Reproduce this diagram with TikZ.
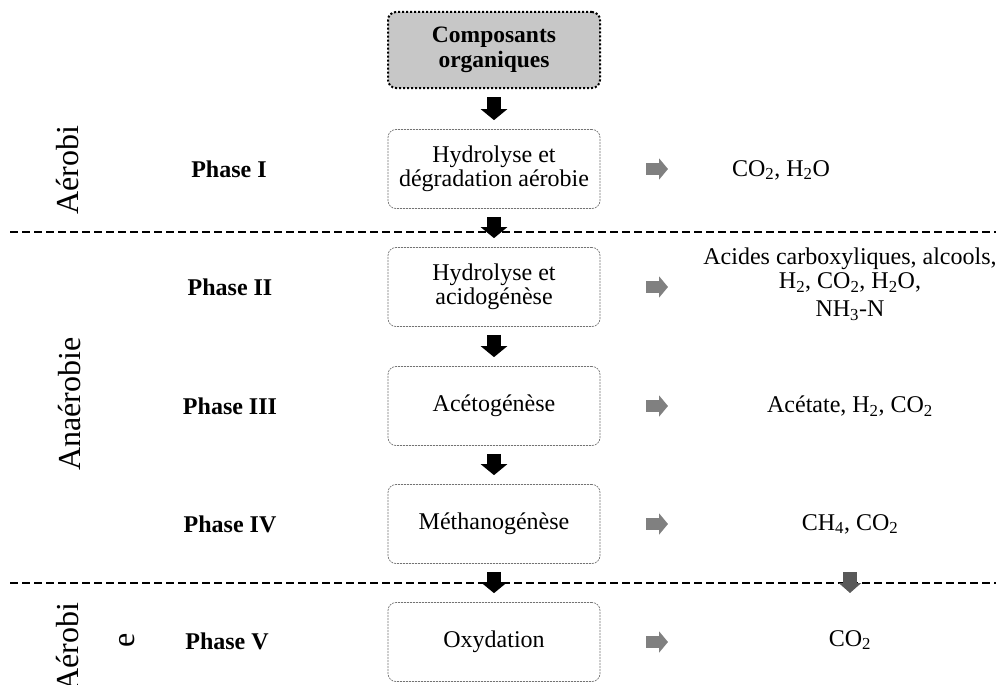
\documentclass[tikz,border=0pt]{standalone}
\usepackage{fontspec}
\setmainfont{Liberation Serif}
\usetikzlibrary{arrows.meta}
\usetikzlibrary{positioning}

\begin{document}
\begin{tikzpicture}[
    x=1pt, y=-1pt,
    font=\fontsize{24}{24}\selectfont
]
\tikzset{
    topbox/.style = {rectangle, rounded corners=8pt, draw=black, fill=black!22, line width=2pt,
                     dotted, minimum width=212pt, minimum height=76pt, align=center, font=\fontsize{23.5}{25}\selectfont\bfseries},
    phasebox/.style = {rectangle, rounded corners=8pt, draw=black!55, line width=0.7pt,
                       dash pattern=on 2pt off 1pt, minimum width=212pt, minimum height=79pt, align=center},
    phaselbl/.style = {font=\fontsize{24}{24}\selectfont\bfseries},
    prodtxt/.style = {align=center},
    sidetxt/.style = {rotate=90, font=\fontsize{32}{36}\selectfont},
    downarr/.style = {-{Triangle[width=26pt,length=11pt]}, line width=14pt, black,
                      shorten <=8pt, shorten >=9pt},
    rightarr/.style = {-{Triangle[width=21pt,length=9pt]}, line width=12pt, black!50,
                       shorten <=46pt},
    prodarr/.style = {-{Triangle[width=22pt,length=10pt]}, line width=14pt, black!65,
                      shorten <=48pt, shorten >=47pt},
    sepline/.style = {line width=1.6pt, dash pattern=on 8pt off 4pt}
}
\useasboundingbox (0,0) rectangle (996,685);
% separations
\draw[sepline] (10,232) -- (996,232);
\draw[sepline] (10,583) -- (996,583);
% left side
\node[sidetxt] (aer1) at (68,170) {Aérobi};
\node[sidetxt] (anaer) at (70,404) {Anaérobie};
\node[sidetxt] (aer2) at (68,647) {Aérobi};
\node[sidetxt] (aere) at (127,640) {e};
\node[phaselbl] (l1) at (229,169) {Phase I};
\node[phaselbl] (l2) at (230,287) {Phase II};
\node[phaselbl] (l3) at (230,406) {Phase III};
\node[phaselbl] (l4) at (230,524) {Phase IV};
\node[phaselbl] (l5) at (227,641) {Phase V};
% boxes
\node[topbox] (top) at (494,50) {Composants\\organiques};
\node[phasebox] (b1) at (494,169) {Hydrolyse et\\dégradation aérobie};
\node[phasebox] (b2) at (494,287) {Hydrolyse et\\acidogénèse};
\node[phasebox] (b3) at (494,406) {Acétogénèse};
\node[phasebox] (b4) at (494,524) {Méthanogénèse};
\node[phasebox] (b5) at (494,642) {Oxydation};
% products
\node[prodtxt] (p1) at (781,170) {CO\textsubscript{2}, H\textsubscript{2}O};
\node[prodtxt] (p2) at (850,284) {Acides carboxyliques, alcools,\\
    H\textsubscript{2}, CO\textsubscript{2}, H\textsubscript{2}O,\\[4pt] NH\textsubscript{3}-N};
\node[prodtxt] (p3) at (850,406) {Acétate, H\textsubscript{2}, CO\textsubscript{2}};
\node[prodtxt] (p4) at (850,524) {CH\textsubscript{4}, CO\textsubscript{2}};
\node[prodtxt] (p5) at (850,640) {CO\textsubscript{2}};
\coordinate (g1) at (668,169);
\coordinate (g2) at (668,287);
\coordinate (g3) at (668,406);
\coordinate (g4) at (668,524);
\coordinate (g5) at (668,642);
% arrows
\draw[downarr] (top.south) -- (b1.north);
\draw[downarr] (b1.south) -- (b2.north);
\draw[downarr] (b2.south) -- (b3.north);
\draw[downarr] (b3.south) -- (b4.north);
\draw[downarr] (b4.south) -- (b5.north);
\draw[rightarr] (b1.east) -- (g1);
\draw[rightarr] (b2.east) -- (g2);
\draw[rightarr] (b3.east) -- (g3);
\draw[rightarr] (b4.east) -- (g4);
\draw[rightarr] (b5.east) -- (g5);
\draw[prodarr] (p4.center) -- (p5.center);
\end{tikzpicture}
\end{document}
